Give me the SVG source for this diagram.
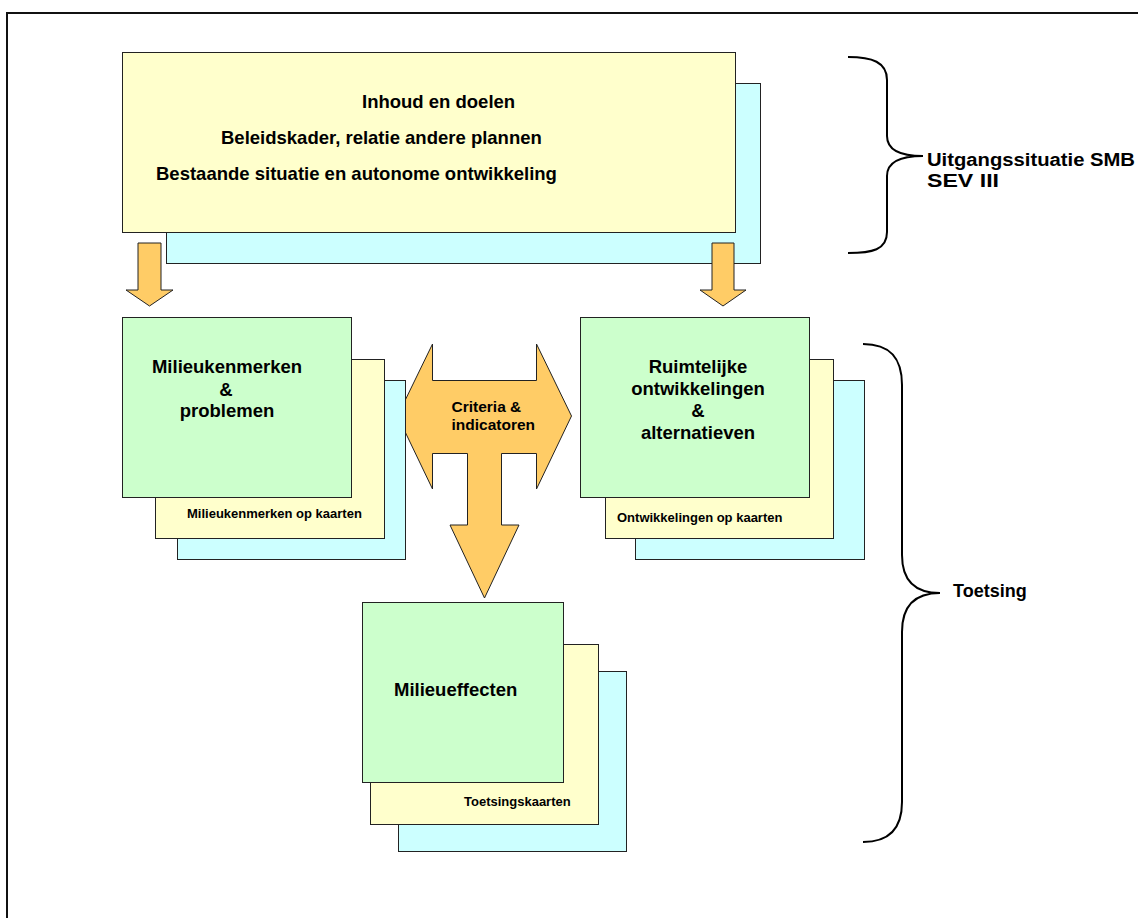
<svg xmlns="http://www.w3.org/2000/svg" width="1138" height="918" viewBox="0 0 1138 918">
<style>
.g{fill:#CCFFCC;stroke:#222;stroke-width:1}
.y{fill:#FFFFCC;stroke:#222;stroke-width:1}
.c{fill:#CCFFFF;stroke:#222;stroke-width:1}
.o{fill:#FFCC66;stroke:#222;stroke-width:1}
.br{fill:none;stroke:#000;stroke-width:2}
text{font-family:"Liberation Sans",Arial,sans-serif;font-weight:bold;fill:#000}
.tt{font-size:18.5px}
.tn{font-size:18.5px}
.ts{font-size:13px}
.tc{font-size:15.5px}
.tb{font-size:18px}
</style>
<rect x="0" y="0" width="1138" height="918" fill="#fff"/>
<path d="M7,918 V13 H1138" fill="none" stroke="#111" stroke-width="2"/>

<g id="top">
<rect class="c" x="166.5" y="83.5" width="594" height="180"/>
<rect class="y" x="122.5" y="52.5" width="613" height="180"/>
<text class="tt" x="362" y="108">Inhoud en doelen</text>
<text class="tt" x="221" y="144">Beleidskader, relatie andere plannen</text>
<text class="tt" x="156" y="180">Bestaande situatie en autonome ontwikkeling</text>
</g>

<g id="connectors">
<path class="o" d="M138,243 H161 V290 H173 L149.5,306 L126,290 H138 Z"/>
<path class="o" d="M712,243 H734 V290 H746 L723,306 L700,290 H712 Z"/>
<path class="o" d="M397.5,416 L432.5,344 V380.5 H536.5 V344 L571.5,416 L536.5,489 V453.5 H501.5 V525 H519 L484.5,598 L450,525 H467.5 V453.5 H432.5 V489 Z"/>
<text class="tc" x="451.5" y="411.5">Criteria &amp;</text>
<text class="tc" x="451.5" y="430">indicatoren</text>
</g>

<g id="milieukenmerken">
<rect class="c" x="177.5" y="380.5" width="228" height="179"/>
<rect class="y" x="155.5" y="359.5" width="229" height="179"/>
<rect class="g" x="122.5" y="317.5" width="229" height="180"/>
<text class="tn" x="227" y="373" text-anchor="middle">Milieukenmerken</text>
<text class="tn" x="226" y="396" text-anchor="middle">&amp;</text>
<text class="tn" x="227" y="417" text-anchor="middle">problemen</text>
<text class="ts" x="187" y="518">Milieukenmerken op kaarten</text>
</g>

<g id="ruimtelijke">
<rect class="c" x="635.5" y="380.5" width="229" height="179"/>
<rect class="y" x="605.5" y="359.5" width="228" height="179"/>
<rect class="g" x="580.5" y="317.5" width="229" height="180"/>
<text class="tn" x="698" y="373" text-anchor="middle">Ruimtelijke</text>
<text class="tn" x="698" y="395" text-anchor="middle">ontwikkelingen</text>
<text class="tn" x="698" y="417" text-anchor="middle">&amp;</text>
<text class="tn" x="698" y="439" text-anchor="middle">alternatieven</text>
<text class="ts" x="617" y="522">Ontwikkelingen op kaarten</text>
</g>

<g id="milieueffecten">
<rect class="c" x="398.5" y="671.5" width="228" height="180"/>
<rect class="y" x="370.5" y="644.5" width="228" height="180"/>
<rect class="g" x="362.5" y="602.5" width="201" height="180"/>
<text class="tn" x="394" y="696">Milieueffecten</text>
<text class="ts" x="464" y="806">Toetsingskaarten</text>
</g>

<g id="brace-uitgang">
<path class="br" d="M848,57 C872,57 887,62 887,80 V136 C887,150 900,156 923,156 C900,156 887,162 887,176 V232 C887,250 872,253 848,253"/>
<text class="tb" x="927" y="166" textLength="208" lengthAdjust="spacingAndGlyphs">Uitgangssituatie SMB</text>
<text class="tb" x="927" y="187" textLength="72" lengthAdjust="spacingAndGlyphs">SEV III</text>
</g>

<g id="brace-toetsing">
<path class="br" d="M863,344 C890,344 902,358 902,385 V555 C902,580 915,593 940,593 C915,593 902,606 902,632 V802 C902,828 890,842 863,842"/>
<text class="tb" x="953" y="597">Toetsing</text>
</g>
</svg>
